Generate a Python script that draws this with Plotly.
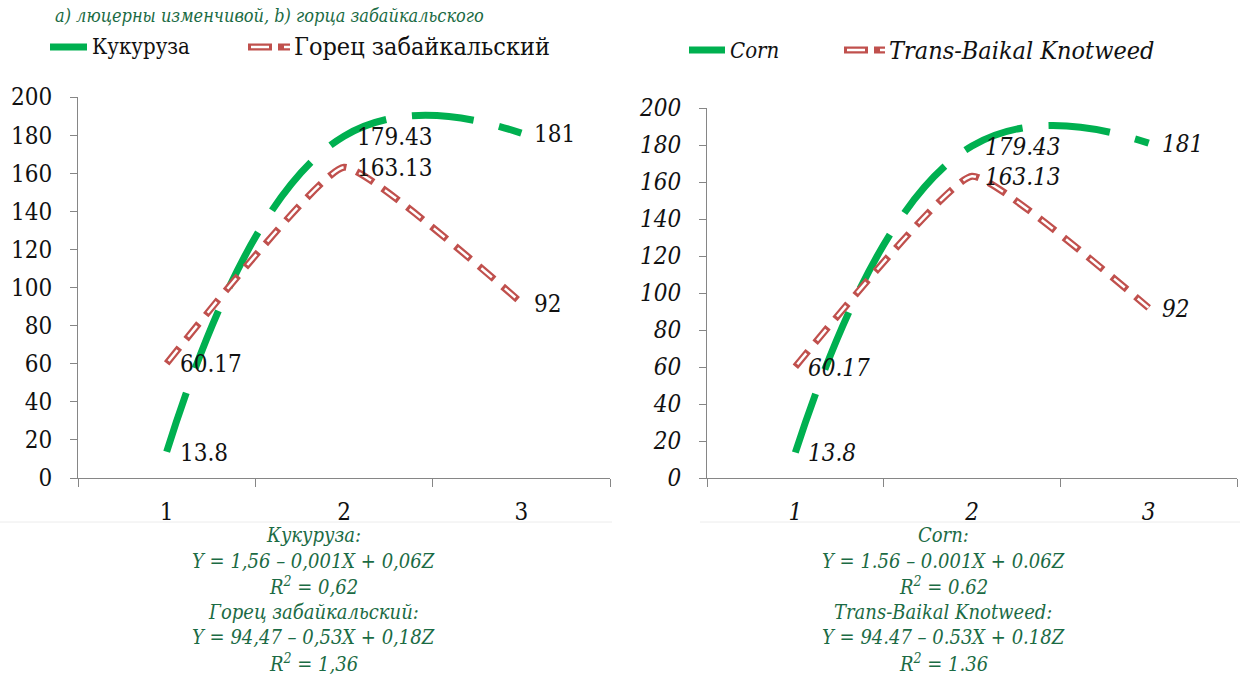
import plotly.graph_objects as go

# ---- data ----
periods = [1, 2, 3]
corn = [13.8, 179.43, 181]
knotweed = [60.17, 163.13, 92]
corn_labels = ["13.8", "179.43", "181"]
knotweed_labels = ["60.17", "163.13", "92"]

legend_ru = ["Кукуруза", "Горец забайкальский"]
legend_en = ["Corn", "Trans-Baikal Knotweed"]

formula_ru = ["Кукуруза:", "Y = 1,56 – 0,001X + 0,06Z", "R<sup>2</sup> = 0,62",
              "Горец забайкальский:", "Y = 94,47 – 0,53X + 0,18Z", "R<sup>2</sup> = 1,36"]
formula_en = ["Corn:", "Y = 1.56 – 0.001X + 0.06Z", "R<sup>2</sup> = 0.62",
              "Trans-Baikal Knotweed:", "Y = 94.47 – 0.53X + 0.18Z", "R<sup>2</sup> = 1.36"]
heading = "а) люцерны изменчивой, b) горца забайкальского"

# ---- styling ----
W, H = 1247, 675
GREEN = "#00b050"
RED = "#c0504d"
AXIS = "#868686"
INK = "#111111"
TEXT_GREEN = "#1b6b44"
SERIF = "DejaVu Serif Condensed, DejaVu Serif, serif"
NUM_SIZE = 24
GREEN_DASH = "62px,26px"
RED_DASH = "20px,11px"
RED_CORE = "0px,3px,14px,14px"


def px(x):
    return x / W


def py(y):
    return 1 - y / H


fig = go.Figure()

panels = [
    dict(xa="x", ya="y", style="normal", x0=78, x1=610, ytop=97, ybot=478,
         legend=legend_ru, formula=formula_ru, fcenter=313,
         leg=[(50, 87, 90, 47), (248, 290, 292, 47)], leg_size=[22, 25]),
    dict(xa="x2", ya="y2", style="italic", x0=707, x1=1237, ytop=108, ybot=478,
         legend=legend_en, formula=formula_en, fcenter=943,
         leg=[(689, 725, 728, 50), (844, 885, 887, 50)], leg_size=[22, 25]),
]

annotations = []
shapes = []

for p in panels:
    # Corn: thick long-dashed smoothed line
    fig.add_trace(go.Scatter(
        x=periods, y=corn, xaxis=p["xa"], yaxis=p["ya"], mode="lines",
        line=dict(color=GREEN, width=7, dash=GREEN_DASH, shape="spline", smoothing=1.3),
        showlegend=False, hoverinfo="skip"))
    # Knotweed: red outlined dashes with a white core
    fig.add_trace(go.Scatter(
        x=periods, y=knotweed, xaxis=p["xa"], yaxis=p["ya"], mode="lines",
        line=dict(color=RED, width=7, dash=RED_DASH, shape="spline", smoothing=0.35),
        showlegend=False, hoverinfo="skip"))
    fig.add_trace(go.Scatter(
        x=periods, y=knotweed, xaxis=p["xa"], yaxis=p["ya"], mode="lines",
        line=dict(color="white", width=2.5, dash=RED_CORE, shape="spline", smoothing=0.35),
        showlegend=False, hoverinfo="skip"))

    # value labels to the right of each point
    lab_font = dict(family=SERIF, size=NUM_SIZE, color=INK, style=p["style"])
    for values, labels in ((corn, corn_labels), (knotweed, knotweed_labels)):
        for xv, yv, t in zip(periods, values, labels):
            annotations.append(dict(x=xv, y=yv, xref=p["xa"], yref=p["ya"], text=t,
                                    showarrow=False, xanchor="left", yanchor="middle",
                                    xshift=11, yshift=-1, font=lab_font))

    # legend samples and names
    (g0, g1, gt, gy), (r0, r1, rt, ry) = p["leg"]
    shapes.append(dict(type="line", xref="paper", yref="paper", x0=px(g0), x1=px(g1),
                       y0=py(gy), y1=py(gy), line=dict(color=GREEN, width=7)))
    shapes.append(dict(type="line", xref="paper", yref="paper", x0=px(r0), x1=px(r1),
                       y0=py(ry), y1=py(ry), line=dict(color=RED, width=7, dash="24px,6px")))
    shapes.append(dict(type="line", xref="paper", yref="paper", x0=px(r0), x1=px(r1),
                       y0=py(ry), y1=py(ry),
                       line=dict(color="white", width=2.5, dash="0px,3px,18px,12px")))
    for name, tx, ty, fs in ((p["legend"][0], gt, gy, p["leg_size"][0]),
                             (p["legend"][1], rt, ry, p["leg_size"][1])):
        annotations.append(dict(x=px(tx), y=py(ty), xref="paper", yref="paper", text=name,
                                showarrow=False, xanchor="left", yanchor="middle",
                                font=dict(family=SERIF, size=fs, color=INK, style=p["style"])))

    # regression formulas under the chart
    f_font = dict(family=SERIF, size=20, color=TEXT_GREEN, style="italic")
    for k, line in enumerate(p["formula"]):
        annotations.append(dict(x=px(p["fcenter"]), y=py(535 + k * 25.6), xref="paper",
                                yref="paper", text=line, showarrow=False, xanchor="center",
                                yanchor="middle", font=f_font))

annotations.append(dict(x=px(53), y=py(15), xref="paper", yref="paper", text=heading,
                        showarrow=False, xanchor="left", yanchor="middle",
                        font=dict(family=SERIF, size=18, color=TEXT_GREEN, style="italic")))

# faint frame lines under the category labels
shapes.append(dict(type="line", xref="paper", yref="paper", x0=0, x1=px(612),
                   y0=py(522), y1=py(522), line=dict(color="#ececec", width=1)))
shapes.append(dict(type="line", xref="paper", yref="paper", x0=px(700), x1=px(1240),
                   y0=py(522), y1=py(522), line=dict(color="#ececec", width=1)))


def xaxis_cfg(p):
    return dict(domain=[px(p["x0"]), px(p["x1"])], range=[0.5, 3.5], tickvals=periods,
                ticktext=[str(v) for v in periods], ticks="", showline=True, linecolor=AXIS,
                linewidth=1, showgrid=False, zeroline=False, fixedrange=True,
                tickfont=dict(family=SERIF, size=NUM_SIZE, color=INK, style=p["style"]),
                ticklabelstandoff=12,
                minor=dict(tickvals=[0.5, 1.5, 2.5, 3.5], ticks="outside", ticklen=8,
                           tickcolor=AXIS, tickwidth=1, showgrid=False))


def yaxis_cfg(p, anchor):
    return dict(domain=[py(p["ybot"]), py(p["ytop"])], range=[0, 200], dtick=20,
                ticks="outside", ticklen=7, tickcolor=AXIS, showline=True, linecolor=AXIS,
                linewidth=1, showgrid=False, zeroline=False, anchor=anchor, fixedrange=True,
                tickfont=dict(family=SERIF, size=NUM_SIZE, color=INK, style=p["style"]),
                ticklabelstandoff=13)


fig.update_layout(
    width=W, height=H, margin=dict(l=0, r=0, t=0, b=0, autoexpand=False),
    paper_bgcolor="white", plot_bgcolor="white", showlegend=False,
    font=dict(family=SERIF),
    xaxis=dict(**xaxis_cfg(panels[0]), anchor="y"),
    yaxis=yaxis_cfg(panels[0], "x"),
    xaxis2=dict(**xaxis_cfg(panels[1]), anchor="y2"),
    yaxis2=yaxis_cfg(panels[1], "x2"),
    annotations=annotations, shapes=shapes,
)

fig.write_html("out.html")
